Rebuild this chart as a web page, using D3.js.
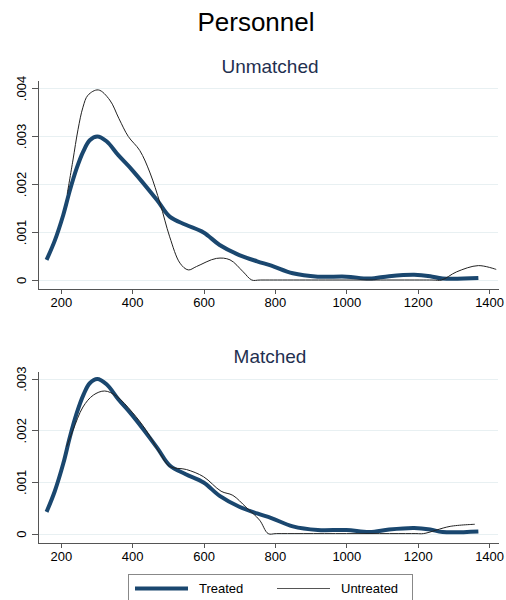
<!DOCTYPE html>
<html>
<head>
<meta charset="utf-8">
<script src="https://cdn.jsdelivr.net/npm/d3@7"></script>
<style>
  body { margin: 0; background: #fff; }
  svg { font-family: "Liberation Sans", Arial, sans-serif; display: block; }
  .grid line { stroke: #e8f0f2; stroke-width: 1; }
  .axis path, .axis line { stroke: #555; stroke-width: 1; shape-rendering: crispEdges; }
  .axis text { fill: #000; font-size: 13px; }
</style>
</head>
<body>
<svg width="506" height="600"></svg>
<script>
// kernel density, treated group (same in both panels)
var treatedX = [160, 183, 207, 225, 244, 263, 281, 302, 328, 361, 400, 470, 505, 550, 600, 645, 700, 750, 790, 850, 920, 1000, 1065, 1120, 1190, 1235, 1270, 1370];
var treatedY = [0.00042, 0.00082, 0.00136, 0.00186, 0.00232, 0.00268, 0.00291, 0.00299, 0.00289, 0.0026, 0.00229, 0.00166, 0.00132, 0.00115, 0.00099, 0.00073, 0.00052, 0.00039, 0.0003, 0.00014, 0.00007, 0.00007, 0.00003, 0.00008, 0.00011, 0.00008, 0.00003, 0.00004];

// untreated, before matching
var unmatchedX = [218, 234, 248, 262, 276, 305, 337, 363, 389, 421, 450, 478, 505, 534, 557, 580, 636, 674, 711, 735, 760, 1240, 1267, 1309, 1370, 1420];
var unmatchedY = [0.0018, 0.0025, 0.00313, 0.0036, 0.00385, 0.00396, 0.00375, 0.00336, 0.00299, 0.0027, 0.00223, 0.0016, 0.0009, 0.00035, 0.00021, 0.00028, 0.00045, 0.00042, 0.00017, 0, 0, 0, 0, 0.00017, 0.0003, 0.00022];

// untreated, after matching
var matchedX = [216, 234, 262, 291, 323, 356, 400, 439, 478, 505, 552, 600, 649, 682, 719, 757, 781, 805, 1195, 1216, 1291, 1360];
var matchedY = [0.00168, 0.002, 0.00245, 0.00268, 0.00276, 0.00266, 0.00235, 0.002, 0.00155, 0.0013, 0.00124, 0.0011, 0.00082, 0.00074, 0.00051, 0.00026, 0, 0, 0, 0, 0.00014, 0.00018];

var xTicks = [200, 400, 600, 800, 1000, 1200, 1400];
var yTicksTop = [0, 0.001, 0.002, 0.003, 0.004];
var yTicksBottom = [0, 0.001, 0.002, 0.003];

var svg = d3.select("svg");
var navy = "#1a476f";

function pts(xs, ys) {
  return xs.map(function(d, i) { return {x: d, y: ys[i]}; });
}

svg.append("text")
    .attr("x", 256)
    .attr("y", 31)
    .attr("text-anchor", "middle")
    .style("font-size", "26px")
    .text("Personnel");

function panel(title, titleY, top, bottom, yDomain, yTicks, untreated) {
  var x = d3.scaleLinear().domain([136, 1425]).range([38, 498]);
  var y = d3.scaleLinear().domain(yDomain).range([bottom, top]);

  svg.append("text")
      .attr("x", 270)
      .attr("y", titleY)
      .attr("text-anchor", "middle")
      .style("font-size", "19px")
      .style("fill", "#1f3050")
      .text(title);

  svg.append("g")
      .attr("class", "grid")
      .selectAll("line")
      .data(yTicks)
    .enter().append("line")
      .attr("x1", 38)
      .attr("x2", 498)
      .attr("y1", function(d) { return Math.round(y(d)) + 0.5; })
      .attr("y2", function(d) { return Math.round(y(d)) + 0.5; });

  svg.append("g")
      .attr("class", "axis axis--x")
      .attr("transform", "translate(0," + bottom + ")")
      .call(d3.axisBottom(x).tickValues(xTicks).tickSize(5).tickSizeOuter(0).tickFormat(d3.format("d")))
      .selectAll("text")
        .attr("y", 9);

  svg.append("g")
      .attr("class", "axis axis--y")
      .attr("transform", "translate(38,0)")
      .call(d3.axisLeft(y).tickValues(yTicks).tickSize(6).tickSizeOuter(0)
        .tickFormat(function(d) { return d === 0 ? "0" : d3.format(".3f")(d).replace(/^0/, ""); }))
      .selectAll("text")
        .attr("x", 0)
        .attr("dy", 0)
        .style("text-anchor", "middle")
        .attr("transform", "translate(-12,0) rotate(-90)");

  var line = d3.line()
      .curve(d3.curveCatmullRom.alpha(0.5))
      .x(function(d) { return x(d.x); })
      .y(function(d) { return y(d.y); });

  svg.append("path")
      .datum(pts(treatedX, treatedY))
      .attr("d", line)
      .style("fill", "none")
      .style("stroke", navy)
      .style("stroke-width", "4px")
      .style("stroke-linejoin", "round");

  svg.append("path")
      .datum(untreated)
      .attr("d", line)
      .style("fill", "none")
      .style("stroke", "#222")
      .style("stroke-width", "1px");
}

panel("Unmatched", 73, 80, 289, [-0.0001875, 0.0041667], yTicksTop, pts(unmatchedX, unmatchedY));
panel("Matched", 363, 371, 543, [-0.000182, 0.003147], yTicksBottom, pts(matchedX, matchedY));

// legend
var legend = svg.append("g");
legend.append("rect")
    .attr("x", 128.5)
    .attr("y", 574.5)
    .attr("width", 284)
    .attr("height", 40)
    .style("fill", "#fff")
    .style("stroke", "#888");
var keys = [
  {label: "Treated", x: 135, color: navy, w: 4},
  {label: "Untreated", x: 277, color: "#555", w: 1}
];
keys.forEach(function(k) {
  legend.append("line")
      .attr("x1", k.x)
      .attr("x2", k.x + 53)
      .attr("y1", 588.5)
      .attr("y2", 588.5)
      .style("stroke", k.color)
      .style("stroke-width", k.w);
  legend.append("text")
      .attr("x", k.x + 64)
      .attr("y", 593)
      .style("font-size", "13px")
      .text(k.label);
});
</script>
</body>
</html>
